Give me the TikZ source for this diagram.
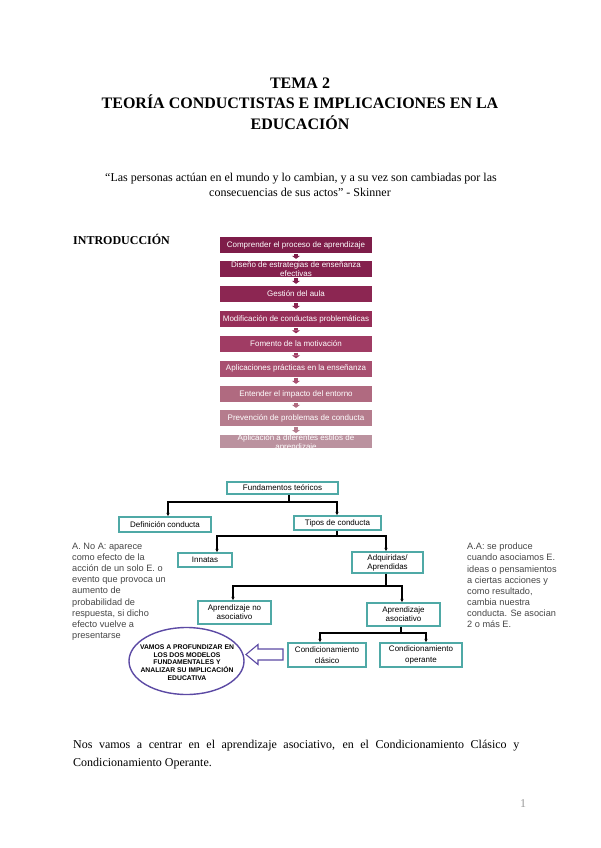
\documentclass[tikz,border=0pt]{standalone}
\usepackage{fontspec}
\setmainfont{Liberation Serif}
\newfontfamily\arialf{Liberation Sans}
\usetikzlibrary{arrows.meta,shapes.geometric}
\definecolor{teal1}{RGB}{79,169,166}
\definecolor{purp}{RGB}{92,74,164}
\definecolor{fa}{RGB}{126,29,73}
\definecolor{fb}{RGB}{132,32,77}
\definecolor{fc}{RGB}{140,38,82}
\definecolor{fd}{RGB}{150,46,88}
\definecolor{fe}{RGB}{160,60,100}
\definecolor{ff}{RGB}{168,80,112}
\definecolor{fg}{RGB}{176,106,128}
\definecolor{fh}{RGB}{181,124,141}
\definecolor{fi}{RGB}{187,146,159}
\definecolor{txtgray}{RGB}{70,70,70}
\begin{document}
\begin{tikzpicture}[x=1pt,y=-1pt,
  flowbox/.style={fill=#1, minimum width=152pt, minimum height=16pt, inner sep=0pt,
    text=white, font=\arialf\fontsize{8}{8.5}\selectfont, align=center},
  flowarr/.style={draw=#1, line width=3.5pt, -{Triangle[width=8pt,length=3pt]},
    shorten <=1pt, shorten >=2pt},
  tbox/.style={draw=teal1, line width=1.2pt, fill=white, inner sep=0pt,
    font=\arialf\fontsize{8}{9}\selectfont, align=center},
  tline/.style={line width=1.1pt, draw=black},
  tarr/.style={tline, -{Latex[length=3.5pt,width=3.5pt]}},
  sidetxt/.style={anchor=north west, inner sep=0pt, align=left, text=txtgray,
    font=\arialf\fontsize{9.2}{11.1}\selectfont},
]
\useasboundingbox (0,0) rectangle (600,848);

% Title
\node[anchor=base, font=\bfseries\fontsize{16}{19}\selectfont] (t1) at (300,88.5) {TEMA 2};
\node[anchor=base, font=\bfseries\fontsize{16}{19}\selectfont] (t2) at (300,109) {TEORÍA CONDUCTISTAS E IMPLICACIONES EN LA};
\node[anchor=base, font=\bfseries\fontsize{16}{19}\selectfont] (t3) at (300,129.5) {EDUCACIÓN};

% Quote
\node[anchor=base, font=\fontsize{12}{15}\selectfont] (q1) at (301,181) {“Las personas actúan en el mundo y lo cambian, y a su vez son cambiadas por las};
\node[anchor=base, font=\fontsize{12}{15}\selectfont] (q2) at (300,196) {consecuencias de sus actos” - Skinner};

% Intro
\node[anchor=base west, inner sep=0pt, font=\bfseries\fontsize{12}{14}\selectfont] (intro) at (73,244) {INTRODUCCIÓN};

% Flow boxes
\node[flowbox=fa] (b1) at (296,245) {Comprender el proceso de aprendizaje};
\node[flowbox=fb] (b2) at (296,269) {Diseño de estrategias de enseñanza\\efectivas};
\node[flowbox=fc] (b3) at (296,294) {Gestión del aula};
\node[flowbox=fd] (b4) at (296,319) {Modificación de conductas problemáticas};
\node[flowbox=fe] (b5) at (296,343.5) {Fomento de la motivación};
\node[flowbox=ff] (b6) at (296,368.5) {Aplicaciones prácticas en la enseñanza};
\node[flowbox=fg] (b7) at (296,394) {Entender el impacto del entorno};
\node[flowbox=fh] (b8) at (296,418) {Prevención de problemas de conducta};
\begin{scope}
  \clip (200,425) rectangle (400,447);
  \node[flowbox=fi] (b9) at (296,443) {Aplicación a diferentes estilos de\\aprendizaje};
\end{scope}
\draw[flowarr=fa] (b1) -- (b2);
\draw[flowarr=fb] (b2) -- (b3);
\draw[flowarr=fc] (b3) -- (b4);
\draw[flowarr=fd] (b4) -- (b5);
\draw[flowarr=fe] (b5) -- (b6);
\draw[flowarr=ff] (b6) -- (b7);
\draw[flowarr=fg] (b7) -- (b8);
\draw[flowarr=fh] (b8.south) -- (b8.south |- 0,435);

% Tree boxes
\node[tbox, minimum width=111pt, minimum height=12pt] (fund) at (282.5,488) {Fundamentos teóricos};
\node[tbox, minimum width=92pt, minimum height=15pt] (def) at (165,524.5) {Definición conducta};
\node[tbox, minimum width=87pt, minimum height=14pt] (tipos) at (337.5,523) {Tipos de conducta};
\node[tbox, minimum width=54pt, minimum height=14pt] (inn) at (205,560) {Innatas};
\node[tbox, minimum width=71pt, minimum height=21pt] (adq) at (387.5,562.5) {Adquiridas/\\Aprendidas};
\node[tbox, minimum width=73pt, minimum height=23pt] (nas) at (234.5,612.5) {Aprendizaje no\\asociativo};
\node[tbox, minimum width=73pt, minimum height=23pt] (aso) at (403.5,614.5) {Aprendizaje\\asociativo};
\node[tbox, minimum width=78pt, minimum height=24pt, font=\arialf\fontsize{8}{11}\selectfont] (cla) at (327,655) {Condicionamiento\\clásico};
\node[tbox, minimum width=82pt, minimum height=24pt, font=\arialf\fontsize{8}{11}\selectfont] (ope) at (421,655) {Condicionamiento\\operante};

% Tree connectors
\coordinate (j1) at (289,502);
\coordinate (j1l) at (168,502);
\coordinate (j1r) at (337,502);
\draw[tline] (fund.south -| j1) -- (j1);
\draw[tarr] (j1) -- (j1l) -- (j1l |- def.north);
\draw[tarr] (j1) -- (j1r) -- (j1r |- tipos.north);

\coordinate (j2) at (337,536);
\coordinate (j2l) at (217,536);
\coordinate (j2r) at (386,536);
\draw[tline] (tipos.south -| j2) -- (j2);
\draw[tarr] (j2) -- (j2l) -- (j2l |- inn.north);
\draw[tarr] (j2) -- (j2r) -- (j2r |- adq.north);

\coordinate (j3) at (386,586);
\coordinate (j3l) at (233,586);
\coordinate (j3r) at (402,586);
\draw[tline] (adq.south -| j3) -- (j3);
\draw[tarr] (j3) -- (j3l) -- (j3l |- nas.north);
\draw[tarr] (j3) -- (j3r) -- (j3r |- aso.north);

\coordinate (j4) at (401,633);
\coordinate (j4l) at (320,633);
\coordinate (j4r) at (426,633);
\draw[tline] (aso.south -| j4) -- (j4);
\draw[tarr] (j4) -- (j4l) -- (j4l |- cla.north);
\draw[tarr] (j4) -- (j4r) -- (j4r |- ope.north);

% Block arrow and ellipse
\draw[draw=purp, line width=1.1pt, fill=white, line join=miter]
  (283,649) -- (258,649) -- (258,644.5) -- (246,654.5) -- (258,664.5) -- (258,660) -- (283,660) -- cycle;
\draw[draw=purp, line width=1.4pt] (186.5,661) ellipse [x radius=57.5pt, y radius=33.5pt];
\node[inner sep=0pt, align=center, font=\arialf\bfseries\fontsize{6.8}{7.7}\selectfont] (ell) at (187,662.5)
  {VAMOS A PROFUNDIZAR EN\\LOS DOS MODELOS\\FUNDAMENTALES Y\\ANALIZAR SU IMPLICACIÓN\\EDUCATIVA};

% Side texts
\node[sidetxt] (left) at (72,543) {A. No A: aparece\\como efecto de la\\acción de un solo E. o\\evento que provoca un\\aumento de\\probabilidad de\\respuesta, si dicho\\efecto vuelve a\\presentarse};
\node[sidetxt] (right) at (467,543) {A.A: se produce\\cuando asociamos E.\\ideas o pensamientos\\a ciertas acciones y\\como resultado,\\cambia nuestra\\conducta. Se asocian\\2 o más E.};

% Bottom text
\node[anchor=north west, inner sep=0pt, text width=446pt, align=justify,
  font=\fontsize{12}{18}\selectfont] (bottom) at (73,739.5)
  {\hyphenpenalty=10000 Nos vamos a centrar en el aprendizaje asociativo, en el Condicionamiento Clásico y\linebreak Condicionamiento Operante.};

% Page number
\node[anchor=base, text=black!40, font=\fontsize{12}{14}\selectfont] (pg) at (523,807) {1};
\end{tikzpicture}
\end{document}
